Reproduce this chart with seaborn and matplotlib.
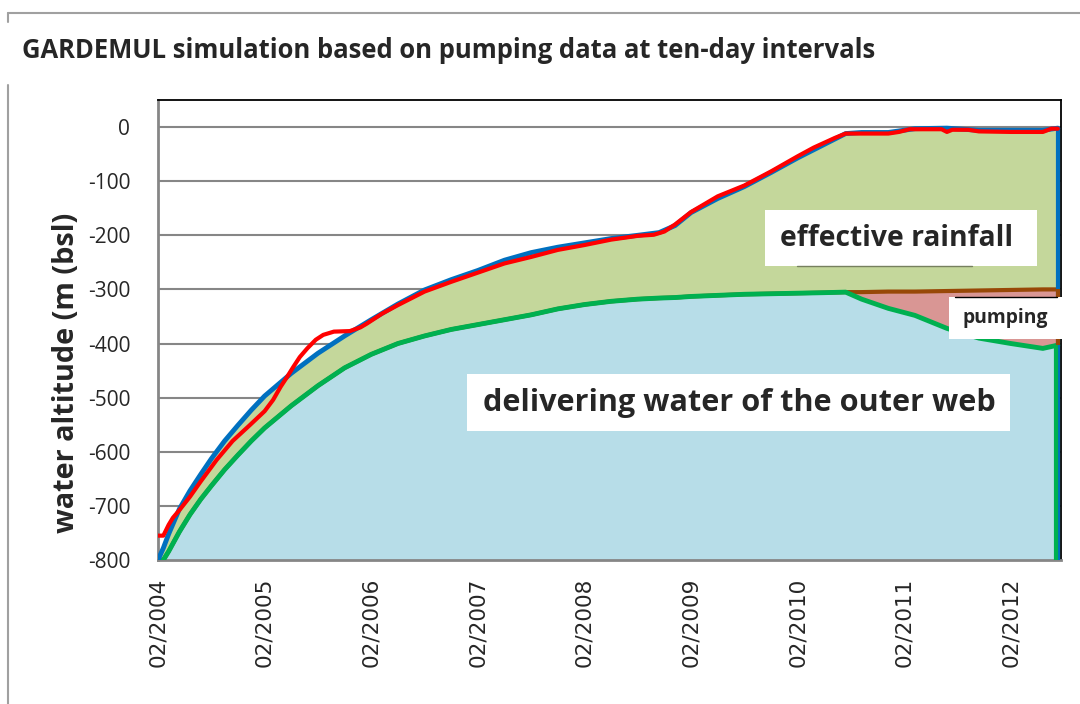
import numpy as np
import pandas as pd
import matplotlib.pyplot as plt
import seaborn as sns
from matplotlib.patches import Rectangle
from matplotlib.lines import Line2D

# time axis: years since 02/2004
t_model = [0.00, 0.05, 0.10, 0.20, 0.30, 0.40, 0.50, 0.625, 0.75, 0.875, 1.00, 1.25,
           1.50, 1.75, 2.00, 2.25, 2.50, 2.75, 3.00, 3.25, 3.50, 3.75, 4.00, 4.25,
           4.50, 4.70, 4.85, 5.00, 5.25, 5.50, 5.75, 6.00, 6.25, 6.45, 6.60, 6.85,
           7.10, 7.40, 7.70, 8.00, 8.30, 8.44]

# simulated water level (blue line, top of effective rainfall area)
simulated = [-800, -778, -752, -706, -672, -642, -613, -580, -551, -523, -497, -455,
             -418, -386, -356, -327, -301, -282, -265, -246, -232, -222, -214, -206,
             -200, -195, -182, -158, -132, -110, -84, -57, -32, -12, -10, -10,
             -3, -2, -6, -6, -6, -2]

# delivering water of the outer web (green line)
outer_web = [-800, -800, -784, -748, -716, -688, -663, -633, -606, -580, -556, -515,
             -478, -445, -420, -400, -386, -374, -365, -356, -347, -336, -328, -322,
             -318, -316, -315, -313, -311, -309, -308, -307, -306, -305, -318, -335,
             -348, -372, -390, -400, -409, -403]

# top of pumping area (brown line)
pumping_top = [-800, -800, -784, -748, -716, -688, -663, -633, -606, -580, -556, -515,
               -478, -445, -420, -400, -386, -374, -365, -356, -347, -336, -328, -322,
               -318, -316, -315, -313, -311, -309, -308, -307, -306, -305, -305, -304,
               -304, -303, -302, -301, -300, -300]

# measured water level (red line)
t_measured = [0.00, 0.05, 0.10, 0.14, 0.20, 0.30, 0.40, 0.55, 0.70, 0.86, 1.00, 1.08,
              1.15, 1.21, 1.27, 1.33, 1.40, 1.48, 1.55, 1.65, 1.80, 1.90, 1.96, 2.10,
              2.25, 2.50, 2.75, 3.00, 3.25, 3.50, 3.75, 4.00, 4.25, 4.50, 4.65, 4.75,
              4.85, 5.00, 5.25, 5.50, 5.75, 6.00, 6.15, 6.35, 6.45, 6.60, 6.85, 6.95,
              7.05, 7.35, 7.40, 7.45, 7.60, 7.70, 8.00, 8.30, 8.38, 8.44]
measured = [-755, -755, -735, -722, -708, -683, -655, -615, -580, -551, -525, -504,
            -480, -462, -443, -425, -409, -393, -384, -378, -377, -370, -363, -345,
            -329, -304, -286, -269, -252, -240, -227, -218, -208, -201, -199, -193,
            -180, -157, -128, -108, -82, -54, -38, -20, -12, -12, -12, -9,
            -4, -4, -9, -5, -5, -8, -9, -9, -3, -3]

tick_years = list(range(9))
tick_labels = ["02/%d" % (2004 + y) for y in tick_years]
y_ticks = list(range(-800, 1, 100))

df = pd.DataFrame({"t": t_model, "sim": simulated, "outer": outer_web, "pump": pumping_top})
obs = pd.DataFrame({"t": t_measured, "level": measured})

sns.set_style("white")
plt.rcParams["font.family"] = ["Open Sans", "DejaVu Sans"]

W, H = 1080, 704
fx = lambda px: px / W
fy = lambda py: 1 - py / H

fig = plt.figure(figsize=(10.8, 7.04), dpi=100)
ax = fig.add_axes([fx(158), fy(560), (1061 - 158) / W, (560 - 100) / H])
renderer = fig.canvas.get_renderer()


def fit_width(txt, target_px, vertical=False):
    # scale a text so that it spans the same pixels as in the reference
    bb = txt.get_window_extent(renderer)
    size = bb.height if vertical else bb.width
    txt.set_fontsize(txt.get_fontsize() * target_px / size)


# stacked areas
ax.fill_between(df["t"], -800, df["outer"], color="#b7dde8", lw=0, zorder=2)
ax.fill_between(df["t"], df["outer"], df["pump"], color="#d99694", lw=0, zorder=2)
ax.fill_between(df["t"], df["pump"], df["sim"], color="#c4d79b", lw=0, zorder=2)

sns.lineplot(data=df, x="t", y="pump", color="#984807", lw=3, ax=ax, zorder=3)
sns.lineplot(data=df, x="t", y="outer", color="#00b050", lw=3.5, ax=ax, zorder=4)
sns.lineplot(data=df, x="t", y="sim", color="#0070c0", lw=3.5, ax=ax, zorder=4)
sns.lineplot(data=obs, x="t", y="level", color="#ff0000", lw=3, ax=ax, zorder=5)

# closing edges of the area series
t_end = df["t"].iloc[-1]
ax.vlines(t_end, -800, df["sim"].iloc[-1], color="#0070c0", lw=3, zorder=4)
ax.vlines(t_end, df["outer"].iloc[-1], df["pump"].iloc[-1], color="#984807", lw=3, zorder=4)
ax.vlines(t_end - 0.02, -800, df["outer"].iloc[-1], color="#00b050", lw=3, zorder=4)

ax.set_xlim(0, 8.47)
ax.set_ylim(-800, 50)
ax.set_xticks(tick_years)
ax.set_xticklabels(tick_labels, rotation=90, family="DejaVu Sans", fontsize=15.5)
ax.set_yticks(y_ticks)
ax.set_yticklabels([str(v) for v in y_ticks], fontsize=15)
ax.tick_params(axis="x", length=7, width=1.5, color="#868686", pad=6)
ax.tick_params(axis="y", length=7, width=1.5, color="#868686", pad=13)
ax.yaxis.grid(True, color="#868686", lw=1.5)
ax.xaxis.grid(False)
ax.set_axisbelow(True)
for s in ["left", "bottom"]:
    ax.spines[s].set_color("#868686")
    ax.spines[s].set_linewidth(2)
for s in ["top", "right"]:
    ax.spines[s].set_color("black")
    ax.spines[s].set_linewidth(1.3)
ax.set_xlabel("")
ax.set_ylabel("")

ylab = fig.text(fx(67), fy(373), "water altitude (m (bsl)", fontsize=20,
                fontweight="bold", rotation=90, ha="center", va="center")
fit_width(ylab, 320, vertical=True)

title = fig.text(fx(22), fy(50), "GARDEMUL simulation based on pumping data at ten-day intervals",
                 fontsize=18, fontweight="bold", va="center", ha="left")
fit_width(title, 856)

# outer frame
frame = dict(color="#a0a0a0", lw=1.5, transform=fig.transFigure)
fig.add_artist(Line2D([fx(8), 1], [fy(13), fy(13)], **frame))
fig.add_artist(Line2D([fx(8), fx(8)], [fy(13), fy(22)], **frame))
fig.add_artist(Line2D([fx(8), fx(8)], [fy(85), 0], **frame))

# white label boxes
boxes = [
    (765, 210, 1037, 266, 780, 232, "effective rainfall"),
    (949, 297, 1062, 339, 963, 85, "pumping"),
    (467, 374, 1010, 431, 483, 512, "delivering water of the outer web"),
]
for x0, y0, x1, y1, tx, tw, label in boxes:
    fig.add_artist(Rectangle((fx(x0), fy(y1)), (x1 - x0) / W, (y1 - y0) / H,
                             facecolor="white", edgecolor="none",
                             transform=fig.transFigure, zorder=1))
    t = fig.text(fx(tx), fy((y0 + y1) / 2), label, fontsize=20, fontweight="bold",
                 va="center", ha="left", zorder=2)
    fit_width(t, tw)

fig.add_artist(Line2D([fx(797), fx(972)], [fy(266), fy(266)], color="#76805e", lw=1,
                      transform=fig.transFigure))
fig.add_artist(Line2D([fx(955), fx(1057)], [fy(297), fy(297)], color="black", lw=1,
                      transform=fig.transFigure))

fig.savefig("out.png", dpi=100)
